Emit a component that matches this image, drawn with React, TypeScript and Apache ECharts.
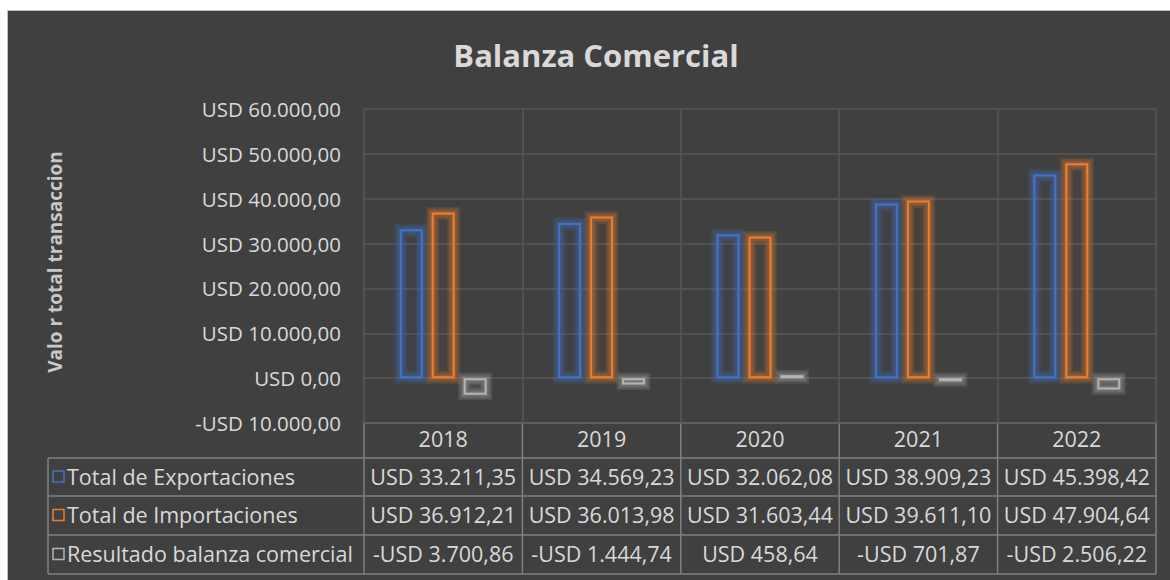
import React, { useEffect, useRef } from "react";
import * as echarts from "echarts";

const years = ["2018", "2019", "2020", "2021", "2022"];
const seriesNames = ["Total de Exportaciones", "Total de Importaciones", "Resultado balanza comercial"];
const exportsData = [33211.35, 34569.23, 32062.08, 38909.23, 45398.42];
const importsData = [36912.21, 36013.98, 31603.44, 39611.1, 47904.64];
const balanceData = [-3700.86, -1444.74, 458.64, -701.87, -2506.22];
const colors = ["#4472C4", "#ED7D31", "#B4B4B4"];
const glowColors = ["rgba(68,114,196,0.15)", "rgba(237,125,49,0.15)", "rgba(200,200,200,0.12)"];
const yMin = -10000;
const yMax = 60000;
const yInterval = 10000;

function fmtUSD(v: number): string {
  const neg = v < 0;
  const a = Math.abs(v);
  const [i, d] = a.toFixed(2).split(".");
  const ii = i.replace(/\B(?=(\d{3})+(?!\d))/g, ".");
  return (neg ? "-" : "") + "USD " + ii + "," + d;
}

const FONT = "'Open Sans', 'Noto Sans', sans-serif";
const TEXT = "#d9d9d9";

export default function App() {
  const ref = useRef<HTMLDivElement>(null);
  useEffect(() => {
    if (!ref.current) return;
    const chart = echarts.init(ref.current, undefined, { renderer: "svg" });
    const gridLeft = 356;
    const gridRight = 1148;
    const gridTop = 98;
    const gridBottom = 412;
    const colW = (gridRight - gridLeft) / years.length;
    const rowY = [412, 447, 485, 524, 563];
    const legendLeft = 40;
    const tableLine = "#808080";
    const allData = [exportsData, importsData, balanceData];
    const cellFont = `21.5px ${FONT}`;
    const BAR_W = 23;
    const BAR_GAP = 0.39;

    const graphics: any[] = [];
    graphics.push({
      type: "text",
      x: 588,
      y: 44,
      style: {
        text: "Balanza Comercial",
        fill: TEXT,
        font: `bold 31px ${FONT}`,
        textAlign: "center",
        textVerticalAlign: "middle",
      },
    });
    graphics.push({
      type: "text",
      x: 47,
      y: 251,
      rotation: Math.PI / 2,
      style: {
        text: "Valo r total transaccion",
        fill: "#c8c8c8",
        font: `bold 19px ${FONT}`,
        textAlign: "center",
        textVerticalAlign: "middle",
      },
    });
    graphics.push({
      type: "line",
      shape: { x1: gridLeft, y1: rowY[0], x2: gridRight, y2: rowY[0] },
      style: { stroke: tableLine, lineWidth: 1.5 },
    });
    for (let r = 1; r < rowY.length; r++) {
      graphics.push({
        type: "line",
        shape: { x1: legendLeft, y1: rowY[r], x2: gridRight, y2: rowY[r] },
        style: { stroke: tableLine, lineWidth: 1.5 },
      });
    }
    graphics.push({
      type: "line",
      shape: { x1: legendLeft, y1: rowY[1], x2: legendLeft, y2: rowY[4] },
      style: { stroke: tableLine, lineWidth: 1.5 },
    });
    for (let c = 0; c <= years.length; c++) {
      const x = gridLeft + c * colW;
      graphics.push({
        type: "line",
        shape: { x1: x, y1: rowY[0], x2: x, y2: rowY[4] },
        style: { stroke: tableLine, lineWidth: 1.5 },
      });
    }
    years.forEach((y, c) => {
      graphics.push({
        type: "text",
        x: gridLeft + (c + 0.5) * colW,
        y: (rowY[0] + rowY[1]) / 2 - 2,
        style: { text: y, fill: TEXT, font: cellFont, textAlign: "center", textVerticalAlign: "middle" },
      });
    });
    seriesNames.forEach((name, r) => {
      const cy = (rowY[r + 1] + rowY[r + 2]) / 2 - 1;
      graphics.push({
        type: "rect",
        shape: { x: 45, y: cy - 5, width: 11, height: 11 },
        style: { fill: "none", stroke: colors[r], lineWidth: 1.5 },
      });
      graphics.push({
        type: "text",
        x: 59,
        y: cy,
        style: { text: name, fill: TEXT, font: cellFont, textAlign: "left", textVerticalAlign: "middle" },
      });
      allData[r].forEach((v, c) => {
        graphics.push({
          type: "text",
          x: gridLeft + (c + 0.5) * colW,
          y: cy,
          style: { text: fmtUSD(v), fill: TEXT, font: cellFont, textAlign: "center", textVerticalAlign: "middle" },
        });
      });
    });

    const mkSeries = (name: string, data: number[], color: string, fillA: string) => ({
      name,
      type: "bar",
      data,
      barWidth: BAR_W,
      barGap: BAR_GAP * 100 + "%",
      barMinHeight: 3,
      z: 3,
      itemStyle: {
        color: fillA,
        borderColor: color,
        borderWidth: 2,
      },
    });

    const glowData = years.map((_, i) => [i, exportsData[i], importsData[i], balanceData[i]]);
    const step = BAR_W * (1 + BAR_GAP);

    const glowSeries = {
      type: "custom",
      name: "glow",
      silent: true,
      z: 1,
      data: glowData,
      encode: { x: 0, y: [1, 2, 3] },
      renderItem: (params: any, api: any) => {
        const i = api.value(0);
        const children: any[] = [];
        for (let s = 0; s < 3; s++) {
          const v = api.value(s + 1);
          const top = api.coord([i, v]);
          const base = api.coord([i, 0]);
          const cx = top[0] + (s - 1) * step;
          let y0 = Math.min(top[1], base[1]);
          let h = Math.abs(base[1] - top[1]);
          if (h < 3) {
            h = 3;
            if (v >= 0) y0 = base[1] - 3;
          }
          const x = cx - BAR_W / 2 + 1;
          for (const w of [13, 10, 7, 4]) {
            children.push({
              type: "rect",
              shape: { x, y: y0 + 1, width: BAR_W - 2, height: Math.max(h - 2, 1) },
              style: { fill: "none", stroke: glowColors[s], lineWidth: w },
            });
          }
        }
        return { type: "group", children };
      },
    };

    chart.setOption({
      animation: false,
      backgroundColor: "transparent",
      grid: {
        left: gridLeft,
        top: gridTop,
        width: gridRight - gridLeft,
        height: gridBottom - gridTop,
        containLabel: false,
      },
      xAxis: {
        type: "category",
        data: years,
        axisLine: { show: false },
        axisTick: { show: false },
        axisLabel: { show: false },
        splitLine: { show: true, lineStyle: { color: "#575757", width: 1.5 } },
      },
      yAxis: {
        type: "value",
        min: yMin,
        max: yMax,
        interval: yInterval,
        axisLine: { show: false },
        axisTick: { show: false },
        axisLabel: {
          margin: 23,
          color: TEXT,
          fontFamily: FONT,
          fontSize: 20.5,
          formatter: (v: number) => fmtUSD(v),
        },
        splitLine: { show: true, lineStyle: { color: "#575757", width: 1.5 } },
      },
      series: [
        mkSeries(seriesNames[0], exportsData, colors[0], "rgba(68,114,196,0.04)"),
        mkSeries(seriesNames[1], importsData, colors[1], "rgba(237,125,49,0.04)"),
        mkSeries(seriesNames[2], balanceData, colors[2], "rgba(165,165,165,0.04)"),
        glowSeries,
      ],
      graphic: graphics,
    });
    return () => chart.dispose();
  }, []);

  return (
    <div
      style={{
        position: "absolute",
        left: 7,
        top: 10,
        width: 1163,
        height: 570,
        boxSizing: "border-box",
        borderTop: "1px solid #c0c0c0",
        borderLeft: "1px solid #c0c0c0",
        background: "#404040",
      }}
    >
      <div ref={ref} style={{ width: 1162, height: 569 }} />
    </div>
  );
}
